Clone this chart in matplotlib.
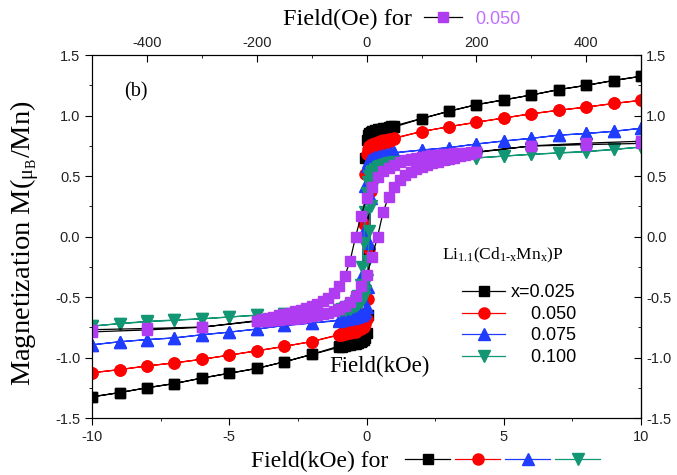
import matplotlib
import numpy as np

matplotlib.use("Agg")
import matplotlib.pyplot as plt
from matplotlib.legend_handler import HandlerTuple
from matplotlib.lines import Line2D
from matplotlib.ticker import MultipleLocator

# Ascending branch of each loop (field in kOe); the descending branch is the
# point-inverted copy of the same measurement.
FIELD_KOE = [-10, -9, -8, -7, -6, -5, -4, -3, -2,
             -1.0, -0.9, -0.8, -0.7, -0.6, -0.5, -0.4, -0.3, -0.2,
             -0.15, -0.1, -0.05, 0.0, 0.05, 0.1, 0.15,
             0.2, 0.3, 0.4, 0.5, 0.6, 0.7, 0.8, 0.9, 1.0,
             2, 3, 4, 5, 6, 7, 8, 9, 10]

M_X025 = [-1.325, -1.29, -1.25, -1.215, -1.17, -1.13, -1.09, -1.036, -0.975,
          -0.915, -0.91, -0.905, -0.90, -0.895, -0.89, -0.885, -0.88, -0.87,
          -0.865, -0.855, -0.84, -0.80, -0.65, -0.15, 0.45,
          0.74, 0.81, 0.84, 0.855, 0.865, 0.875, 0.885, 0.895, 0.905,
          0.975, 1.036, 1.09, 1.13, 1.17, 1.215, 1.25, 1.29, 1.325]

M_X050 = [-1.126, -1.10, -1.07, -1.044, -1.015, -0.98, -0.945, -0.908, -0.868,
          -0.815, -0.81, -0.805, -0.80, -0.795, -0.79, -0.785, -0.775, -0.765,
          -0.755, -0.745, -0.725, -0.68, -0.52, -0.1, 0.38,
          0.64, 0.71, 0.74, 0.755, 0.765, 0.775, 0.785, 0.795, 0.81,
          0.868, 0.908, 0.945, 0.98, 1.015, 1.044, 1.07, 1.10, 1.126]

M_X075 = [-0.895, -0.87, -0.852, -0.838, -0.812, -0.79, -0.765, -0.735, -0.715,
          -0.695, -0.69, -0.685, -0.68, -0.675, -0.67, -0.665, -0.66, -0.65,
          -0.645, -0.635, -0.615, -0.58, -0.42, -0.05, 0.32,
          0.52, 0.60, 0.625, 0.64, 0.65, 0.66, 0.67, 0.68, 0.69,
          0.715, 0.735, 0.765, 0.79, 0.812, 0.838, 0.852, 0.87, 0.895]

M_X100 = [-0.74, -0.72, -0.705, -0.692, -0.68, -0.665, -0.65, -0.64, -0.635,
          -0.615, -0.61, -0.605, -0.60, -0.595, -0.585, -0.575, -0.56, -0.54,
          -0.525, -0.50, -0.45, -0.36, -0.2, 0.05, 0.25,
          0.40, 0.49, 0.53, 0.555, 0.57, 0.58, 0.59, 0.60, 0.61,
          0.635, 0.64, 0.65, 0.665, 0.68, 0.69, 0.70, 0.72, 0.74]

# x = 0.050 again, on the Oe scale of the top axis
FIELD_OE = [-500, -400, -300, -200, -190, -180, -170, -160, -150, -140, -130,
            -120, -110, -100, -90, -80, -70, -60, -50, -40, -30, -20, -10, 0,
            10, 20, 30, 40, 50, 60, 70, 80, 90, 100, 110, 120, 130, 140, 150,
            160, 170, 180, 190, 200, 300, 400, 500]
M_X050_OE = [-0.77, -0.76, -0.748, -0.70, -0.697, -0.694, -0.691, -0.688,
             -0.685, -0.682, -0.678, -0.673, -0.667, -0.66, -0.652, -0.642,
             -0.63, -0.614, -0.595, -0.57, -0.54, -0.49, -0.41, -0.32,
             -0.17, 0.0, 0.2, 0.33, 0.41, 0.465, 0.505, 0.535, 0.56, 0.578,
             0.594, 0.607, 0.619, 0.63, 0.641, 0.652, 0.663, 0.673, 0.684,
             0.695, 0.75, 0.772, 0.788]

Y_TICKS = [-1.5, -1.0, -0.5, 0.0, 0.5, 1.0, 1.5]
Y_MINOR = [-1.25, -0.75, -0.25, 0.25, 0.75, 1.25]

SERIES = [M_X025, M_X050, M_X075, M_X100]
LABELS = ["x=0.025", "\u2007\u20070.050", "\u2007\u20070.075", "\u2007\u20070.100"]
COLORS = ["#000000", "#ff0000", "#1f3cff", "#139674"]
MARKERS = ["s", "o", "^", "v"]
SIZES = [7, 8, 8, 8]
PURPLE = "#b03cf2"

SERIF = "Liberation Serif"
plt.rcParams["font.family"] = "Liberation Sans"
plt.rcParams["axes.unicode_minus"] = False
plt.rcParams["mathtext.fontset"] = "custom"
plt.rcParams["mathtext.rm"] = SERIF
plt.rcParams["mathtext.it"] = SERIF + ":italic"

fig = plt.figure(figsize=(6.77, 4.75), dpi=100)
ax = fig.add_axes([0.136, 0.12, 0.811, 0.764])

handles = []
for m, c, mk, ms, lab in zip(SERIES, COLORS, MARKERS, SIZES, LABELS):
    h = np.array(FIELD_KOE)
    mm = np.array(m)
    ln, = ax.plot(np.concatenate([h, -h]), np.concatenate([mm, -mm]), color=c, lw=0.9,
                  marker=mk, ms=ms, mec=c, mfc=c, label=lab)
    handles.append(ln)

ax.set_xlim(-10, 10)
ax.set_ylim(-1.5, 1.5)
ax.xaxis.set_major_locator(MultipleLocator(5))
ax.xaxis.set_minor_locator(MultipleLocator(2.5))
ax.set_yticks(Y_TICKS)
ax.set_yticks(Y_MINOR, minor=True)
ax.tick_params(which="both", direction="out", labelsize=10.5, labelcolor="#222222")
ax.tick_params(which="major", length=5)
ax.tick_params(which="minor", length=2.5)

sec = ax.secondary_yaxis("right")
sec.set_yticks(Y_TICKS)
sec.set_yticks(Y_MINOR, minor=True)
sec.tick_params(which="both", direction="in", labelsize=10.5, labelcolor="#222222")
sec.tick_params(which="major", length=5)
sec.tick_params(which="minor", length=2.5)

# top axis: the 0.050 sample plotted against field in Oe
ax2 = ax.twiny()
h = np.array(FIELD_OE)
mm = np.array(M_X050_OE)
ax2.plot(np.concatenate([h, -h]), np.concatenate([mm, -mm]), color="black", lw=0.9,
         marker="s", ms=7, mfc=PURPLE, mec=PURPLE)
ax2.set_xlim(-500, 500)
ax2.xaxis.set_major_locator(MultipleLocator(200))
ax2.xaxis.set_minor_locator(MultipleLocator(100))
ax2.tick_params(which="both", direction="in", labelsize=10.5, labelcolor="#222222")
ax2.tick_params(which="major", length=5)
ax2.tick_params(which="minor", length=2.5)

ax.set_ylabel(r"Magnetization M(${}_{\mathrm{\mu}_{\mathrm{B}}}$/Mn)",
              fontfamily=SERIF, fontsize=20.5)
ax.yaxis.set_label_coords(-0.092, 0.481)

ax.text(0.08, 0.899, "(b)", transform=ax.transAxes, fontfamily=SERIF, fontsize=14.5,
        ha="center", va="center")
ax.text(0.48, -1.075, "Field(kOe)", fontfamily=SERIF, fontsize=16.5, ha="center", va="center")
ax.text(0.6375, 0.449, r"Li$_{\mathrm{1.1}}$(Cd$_{\mathrm{1\text{-}x}}$Mn$_{\mathrm{x}}$)P",
        transform=ax.transAxes, fontfamily=SERIF, fontsize=12.5, ha="left", va="center")

ax.legend(handles, LABELS, loc="upper left", bbox_to_anchor=(0.674, 0.368),
          frameon=False, fontsize=13, handlelength=2.4, handletextpad=0.3,
          labelspacing=0.25, borderpad=0, borderaxespad=0)

# bottom caption with the symbol key after the text
key = tuple(Line2D([], [], color=c, lw=0.9, marker=mk, ms=ms, mec=c, mfc=c)
            for c, mk, ms in zip(COLORS, MARKERS, SIZES))
fig.legend([key], ["Field(kOe) for"], loc="center left",
           bbox_to_anchor=(251 / 677, 1 - 461 / 475), frameon=False,
           prop={"family": SERIF, "size": 17}, markerfirst=False,
           handlelength=8.26, handletextpad=0.72, borderpad=0, borderaxespad=0,
           handler_map={tuple: HandlerTuple(ndivide=None, pad=0.2)})

# top caption
top_key = Line2D([], [], color="black", lw=0.9, marker="s", ms=7, mfc=PURPLE, mec=PURPLE)
fig.legend([top_key], ["Field(Oe) for"], loc="center left",
           bbox_to_anchor=(283 / 677, 1 - 19 / 475), frameon=False,
           prop={"family": SERIF, "size": 17.5}, markerfirst=False,
           handlelength=1.56, handletextpad=0.5, borderpad=0, borderaxespad=0)
fig.text(475 / 677, 1 - 19 / 475, "0.050", fontsize=13, color="#c070ff",
         ha="left", va="center")

fig.savefig("out.png", dpi=100)
